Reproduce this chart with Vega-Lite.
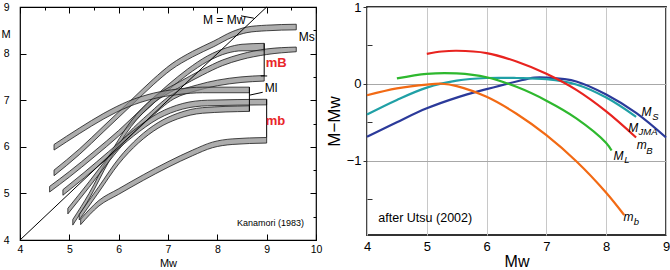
{
  "$schema": "https://vega.github.io/schema/vega-lite/v6.json",
  "padding": 0,
  "background": "white",
  "spacing": 1,
  "config": {
    "font": "Liberation Sans",
    "view": {"stroke": null},
    "axis": {"labelFlush": false, "labelOverlap": false, "labelColor": "black", "titleColor": "black", "titleFontWeight": "normal"}
  },
  "datasets": {
    "bands": [
      {"band": "B1", "mw": 4.69, "hi": 5.5, "lo": 5.38},
      {"band": "B1", "mw": 5.2, "hi": 5.95, "lo": 5.83},
      {"band": "B1", "mw": 5.7, "hi": 6.45, "lo": 6.33},
      {"band": "B1", "mw": 6.25, "hi": 7.0, "lo": 6.88},
      {"band": "B1", "mw": 6.7, "hi": 7.45, "lo": 7.33},
      {"band": "B1", "mw": 7.06, "hi": 7.77, "lo": 7.65},
      {"band": "B1", "mw": 7.5, "hi": 8.05, "lo": 7.93},
      {"band": "B1", "mw": 7.93, "hi": 8.27, "lo": 8.15},
      {"band": "B1", "mw": 8.3, "hi": 8.47, "lo": 8.35},
      {"band": "B1", "mw": 8.6, "hi": 8.57, "lo": 8.45},
      {"band": "B1", "mw": 9.0, "hi": 8.61, "lo": 8.49},
      {"band": "B1", "mw": 9.6, "hi": 8.63, "lo": 8.51},
      {"band": "B2", "mw": 4.6, "hi": 5.15, "lo": 5.03},
      {"band": "B2", "mw": 5.0, "hi": 5.47, "lo": 5.35},
      {"band": "B2", "mw": 5.5, "hi": 5.9, "lo": 5.78},
      {"band": "B2", "mw": 6.0, "hi": 6.35, "lo": 6.23},
      {"band": "B2", "mw": 6.5, "hi": 6.85, "lo": 6.73},
      {"band": "B2", "mw": 7.0, "hi": 7.33, "lo": 7.21},
      {"band": "B2", "mw": 7.4, "hi": 7.67, "lo": 7.55},
      {"band": "B2", "mw": 7.8, "hi": 7.95, "lo": 7.83},
      {"band": "B2", "mw": 8.2, "hi": 8.13, "lo": 8.01},
      {"band": "B2", "mw": 8.5, "hi": 8.2, "lo": 8.06},
      {"band": "B2", "mw": 8.95, "hi": 8.22, "lo": 8.06},
      {"band": "B3", "mw": 5.07, "hi": 4.44, "lo": 4.32},
      {"band": "B3", "mw": 5.4, "hi": 5.0, "lo": 4.88},
      {"band": "B3", "mw": 5.8, "hi": 5.8, "lo": 5.68},
      {"band": "B3", "mw": 6.25, "hi": 6.55, "lo": 6.43},
      {"band": "B3", "mw": 6.7, "hi": 7.05, "lo": 6.93},
      {"band": "B3", "mw": 7.26, "hi": 7.41, "lo": 7.29},
      {"band": "B3", "mw": 7.7, "hi": 7.66, "lo": 7.54},
      {"band": "B3", "mw": 8.1, "hi": 7.86, "lo": 7.74},
      {"band": "B3", "mw": 8.48, "hi": 7.99, "lo": 7.87},
      {"band": "B3", "mw": 9.0, "hi": 8.1, "lo": 7.98},
      {"band": "B3", "mw": 9.6, "hi": 8.14, "lo": 8.04},
      {"band": "B4", "mw": 4.97, "hi": 4.68, "lo": 4.56},
      {"band": "B4", "mw": 5.4, "hi": 5.25, "lo": 5.13},
      {"band": "B4", "mw": 5.8, "hi": 5.8, "lo": 5.68},
      {"band": "B4", "mw": 6.2, "hi": 6.3, "lo": 6.18},
      {"band": "B4", "mw": 6.6, "hi": 6.7, "lo": 6.58},
      {"band": "B4", "mw": 7.12, "hi": 7.15, "lo": 7.03},
      {"band": "B4", "mw": 7.6, "hi": 7.33, "lo": 7.21},
      {"band": "B4", "mw": 8.0, "hi": 7.43, "lo": 7.31},
      {"band": "B4", "mw": 8.48, "hi": 7.5, "lo": 7.38},
      {"band": "B4", "mw": 8.95, "hi": 7.53, "lo": 7.41},
      {"band": "B5", "mw": 4.69, "hi": 6.05, "lo": 5.93},
      {"band": "B5", "mw": 5.2, "hi": 6.4, "lo": 6.28},
      {"band": "B5", "mw": 5.7, "hi": 6.72, "lo": 6.6},
      {"band": "B5", "mw": 6.2, "hi": 6.98, "lo": 6.86},
      {"band": "B5", "mw": 6.7, "hi": 7.15, "lo": 7.03},
      {"band": "B5", "mw": 7.2, "hi": 7.24, "lo": 7.12},
      {"band": "B5", "mw": 7.7, "hi": 7.28, "lo": 7.16},
      {"band": "B5", "mw": 8.65, "hi": 7.28, "lo": 7.16},
      {"band": "B6", "mw": 4.87, "hi": 5.08, "lo": 4.96},
      {"band": "B6", "mw": 5.3, "hi": 5.45, "lo": 5.33},
      {"band": "B6", "mw": 5.8, "hi": 5.9, "lo": 5.78},
      {"band": "B6", "mw": 6.3, "hi": 6.35, "lo": 6.23},
      {"band": "B6", "mw": 6.8, "hi": 6.72, "lo": 6.6},
      {"band": "B6", "mw": 7.3, "hi": 6.93, "lo": 6.81},
      {"band": "B6", "mw": 7.8, "hi": 7.0, "lo": 6.88},
      {"band": "B6", "mw": 9.0, "hi": 7.02, "lo": 6.9},
      {"band": "B7", "mw": 5.2, "hi": 4.55, "lo": 4.43},
      {"band": "B7", "mw": 5.6, "hi": 5.15, "lo": 5.03},
      {"band": "B7", "mw": 6.0, "hi": 5.75, "lo": 5.63},
      {"band": "B7", "mw": 6.4, "hi": 6.2, "lo": 6.08},
      {"band": "B7", "mw": 6.8, "hi": 6.52, "lo": 6.4},
      {"band": "B7", "mw": 7.2, "hi": 6.72, "lo": 6.6},
      {"band": "B7", "mw": 7.7, "hi": 6.84, "lo": 6.72},
      {"band": "B7", "mw": 8.65, "hi": 6.88, "lo": 6.76},
      {"band": "B8", "mw": 5.23, "hi": 4.45, "lo": 4.33},
      {"band": "B8", "mw": 5.6, "hi": 4.85, "lo": 4.73},
      {"band": "B8", "mw": 6.0, "hi": 5.1, "lo": 4.98},
      {"band": "B8", "mw": 6.5, "hi": 5.4, "lo": 5.28},
      {"band": "B8", "mw": 7.0, "hi": 5.68, "lo": 5.56},
      {"band": "B8", "mw": 7.5, "hi": 5.93, "lo": 5.81},
      {"band": "B8", "mw": 7.9, "hi": 6.1, "lo": 5.98},
      {"band": "B8", "mw": 8.3, "hi": 6.17, "lo": 6.05},
      {"band": "B8", "mw": 9.0, "hi": 6.2, "lo": 6.08}
    ],
    "segs": [
      {"x1": 4, "y1": 4, "x2": 9, "y2": 9},
      {"x1": 8.95, "y1": 8.22, "x2": 8.95, "y2": 7.52},
      {"x1": 8.88, "y1": 7.52, "x2": 9.01, "y2": 7.52},
      {"x1": 9.0, "y1": 7.02, "x2": 9.0, "y2": 6.2},
      {"x1": 8.65, "y1": 7.28, "x2": 8.65, "y2": 6.76},
      {"x1": 8.48, "y1": 8.81, "x2": 8.74, "y2": 8.76},
      {"x1": 8.92, "y1": 7.17, "x2": 8.66, "y2": 7.11}
    ],
    "ktext": [
      {"t": "M = Mw", "mw": 7.71, "m": 8.72},
      {"t": "Ms", "mw": 9.65, "m": 8.35},
      {"t": "Ml", "mw": 8.96, "m": 7.26}
    ],
    "kred": [
      {"t": "mB", "mw": 8.98, "m": 7.8},
      {"t": "mb", "mw": 8.98, "m": 6.55}
    ],
    "ksrc": [
      {"t": "Kanamori (1983)", "mw": 8.4, "m": 4.37}
    ],
    "utsu": [
      {"curve": "Ms", "mw": 4.0, "d": -0.69},
      {"curve": "Ms", "mw": 4.5, "d": -0.5},
      {"curve": "Ms", "mw": 5.0, "d": -0.32},
      {"curve": "Ms", "mw": 5.5, "d": -0.18},
      {"curve": "Ms", "mw": 6.0, "d": -0.07},
      {"curve": "Ms", "mw": 6.5, "d": 0.03},
      {"curve": "Ms", "mw": 6.8, "d": 0.08},
      {"curve": "Ms", "mw": 7.0, "d": 0.08},
      {"curve": "Ms", "mw": 7.5, "d": 0.03},
      {"curve": "Ms", "mw": 8.0, "d": -0.14},
      {"curve": "Ms", "mw": 8.5, "d": -0.38},
      {"curve": "Ms", "mw": 9.0, "d": -0.7},
      {"curve": "MJMA", "mw": 4.0, "d": -0.4},
      {"curve": "MJMA", "mw": 4.5, "d": -0.21},
      {"curve": "MJMA", "mw": 5.0, "d": -0.05},
      {"curve": "MJMA", "mw": 5.5, "d": 0.04},
      {"curve": "MJMA", "mw": 6.0, "d": 0.075},
      {"curve": "MJMA", "mw": 6.5, "d": 0.075},
      {"curve": "MJMA", "mw": 7.0, "d": 0.06},
      {"curve": "MJMA", "mw": 7.5, "d": -0.01},
      {"curve": "MJMA", "mw": 8.0, "d": -0.18},
      {"curve": "MJMA", "mw": 8.5, "d": -0.43},
      {"curve": "mB", "mw": 5.0, "d": 0.39},
      {"curve": "mB", "mw": 5.25, "d": 0.42},
      {"curve": "mB", "mw": 5.5, "d": 0.43},
      {"curve": "mB", "mw": 6.0, "d": 0.4},
      {"curve": "mB", "mw": 6.5, "d": 0.29},
      {"curve": "mB", "mw": 7.0, "d": 0.13},
      {"curve": "mB", "mw": 7.5, "d": -0.08},
      {"curve": "mB", "mw": 8.0, "d": -0.36},
      {"curve": "mB", "mw": 8.5, "d": -0.7},
      {"curve": "ML", "mw": 4.5, "d": 0.07},
      {"curve": "ML", "mw": 5.0, "d": 0.13},
      {"curve": "ML", "mw": 5.5, "d": 0.135},
      {"curve": "ML", "mw": 6.0, "d": 0.085},
      {"curve": "ML", "mw": 6.5, "d": -0.04},
      {"curve": "ML", "mw": 7.0, "d": -0.22},
      {"curve": "ML", "mw": 7.5, "d": -0.45},
      {"curve": "ML", "mw": 8.0, "d": -0.77},
      {"curve": "ML", "mw": 8.09, "d": -0.87},
      {"curve": "mb", "mw": 4.0, "d": -0.15},
      {"curve": "mb", "mw": 4.5, "d": -0.06},
      {"curve": "mb", "mw": 5.0, "d": -0.01},
      {"curve": "mb", "mw": 5.25, "d": 0.0},
      {"curve": "mb", "mw": 5.5, "d": -0.03},
      {"curve": "mb", "mw": 6.0, "d": -0.17},
      {"curve": "mb", "mw": 6.5, "d": -0.39},
      {"curve": "mb", "mw": 7.0, "d": -0.67},
      {"curve": "mb", "mw": 7.5, "d": -1.01},
      {"curve": "mb", "mw": 8.0, "d": -1.42},
      {"curve": "mb", "mw": 8.3, "d": -1.71}
    ],
    "umain": [
      {"t": "M", "mw": 8.59, "d": -0.37},
      {"t": "M", "mw": 8.37, "d": -0.57},
      {"t": "m", "mw": 8.51, "d": -0.8},
      {"t": "M", "mw": 8.12, "d": -0.94},
      {"t": "m", "mw": 8.29, "d": -1.74}
    ],
    "usub": [
      {"t": "S", "mw": 8.77, "d": -0.43},
      {"t": "JMA", "mw": 8.54, "d": -0.63},
      {"t": "B", "mw": 8.67, "d": -0.87},
      {"t": "L", "mw": 8.3, "d": -0.99},
      {"t": "b", "mw": 8.46, "d": -1.8}
    ],
    "usrc": [
      {"t": "after Utsu (2002)", "mw": 4.19, "d": -1.75}
    ]
  },
  "hconcat": [
    {
      "width": 296,
      "height": 233,
      "view": {"stroke": "black", "strokeWidth": 1.2},
      "layer": [
        {
          "data": {"name": "bands"},
          "mark": {"type": "area", "interpolate": "monotone", "fill": "#8a8a8a", "fillOpacity": 0.7, "stroke": "#1a1a1a", "strokeWidth": 0.8},
          "encoding": {
            "x": {"field": "mw", "type": "quantitative", "scale": {"domain": [4, 10], "nice": false, "zero": false},
              "axis": {"orient": "bottom", "values": [4, 4.5, 5, 5.5, 6, 6.5, 7, 7.5, 8, 8.5, 9, 9.5, 10], "format": "d",
                "labelExpr": "datum.value % 1 === 0 ? datum.label : ''", "domain": false, "grid": false,
                "tickColor": "black", "tickSize": {"condition": {"test": "datum.value % 1 === 0", "value": -6}, "value": -3},
                "labelPadding": 10, "labelFontSize": 10.5, "title": "Mw", "titleFontSize": 11, "titlePadding": 3}},
            "y": {"field": "hi", "type": "quantitative", "scale": {"domain": [4, 9], "nice": false, "zero": false},
              "axis": {"orient": "left", "values": [4, 4.5, 5, 5.5, 6, 6.5, 7, 7.5, 8, 8.5, 9], "format": "d",
                "labelExpr": "datum.value % 1 === 0 ? datum.label : ''", "domain": false, "grid": false,
                "tickColor": "black", "tickSize": {"condition": {"test": "datum.value % 1 === 0", "value": -6}, "value": -3},
                "labelPadding": 17, "labelFontSize": 10.5, "title": "M", "titleFontSize": 11, "titleAngle": 0,
                "titleX": -19, "titleY": 27, "titleAlign": "left", "titleBaseline": "middle"}},
            "y2": {"field": "lo"},
            "detail": {"field": "band"}
          }
        },
        {
          "data": {"name": "segs"},
          "mark": {"type": "rule", "color": "black", "strokeWidth": 1},
          "encoding": {
            "x": {"field": "x1", "type": "quantitative",
              "axis": {"orient": "top", "values": [4, 4.5, 5, 5.5, 6, 6.5, 7, 7.5, 8, 8.5, 9, 9.5, 10], "labels": false, "domain": false, "grid": false,
                "tickColor": "black", "tickSize": {"condition": {"test": "datum.value % 1 === 0", "value": -6}, "value": -3}, "title": null}},
            "y": {"field": "y1", "type": "quantitative",
              "axis": {"orient": "right", "values": [4, 4.5, 5, 5.5, 6, 6.5, 7, 7.5, 8, 8.5, 9], "labels": false, "domain": false, "grid": false,
                "tickColor": "black", "tickSize": {"condition": {"test": "datum.value % 1 === 0", "value": -6}, "value": -3}, "title": null}},
            "x2": {"field": "x2"},
            "y2": {"field": "y2"}
          }
        },
        {
          "data": {"name": "ktext"},
          "mark": {"type": "text", "align": "left", "baseline": "middle", "fontSize": 12, "color": "black"},
          "encoding": {
            "x": {"field": "mw", "type": "quantitative", "axis": null},
            "y": {"field": "m", "type": "quantitative", "axis": null},
            "text": {"field": "t"}
          }
        },
        {
          "data": {"name": "kred"},
          "mark": {"type": "text", "align": "left", "baseline": "middle", "fontSize": 13, "fontWeight": "bold", "color": "#e8262a"},
          "encoding": {
            "x": {"field": "mw", "type": "quantitative", "axis": null},
            "y": {"field": "m", "type": "quantitative", "axis": null},
            "text": {"field": "t"}
          }
        },
        {
          "data": {"name": "ksrc"},
          "mark": {"type": "text", "align": "left", "baseline": "middle", "fontSize": 9, "color": "black"},
          "encoding": {
            "x": {"field": "mw", "type": "quantitative", "axis": null},
            "y": {"field": "m", "type": "quantitative", "axis": null},
            "text": {"field": "t"}
          }
        }
      ],
      "resolve": {"axis": {"x": "independent", "y": "independent"}}
    },
    {
      "width": 299,
      "height": 228,
      "view": {"stroke": "#333333", "strokeWidth": 1.8},
      "layer": [
        {
          "data": {"name": "utsu"},
          "mark": {"type": "line", "interpolate": "catmull-rom", "strokeWidth": 2.2},
          "encoding": {
            "x": {"field": "mw", "type": "quantitative", "scale": {"domain": [4, 9], "nice": false, "zero": false},
              "axis": {"orient": "bottom", "values": [4, 5, 6, 7, 8, 9], "grid": true, "gridColor": "#c8c8c8", "gridWidth": 1,
                "domain": false, "ticks": false, "labelPadding": 5, "labelFontSize": 13,
                "title": "Mw", "titleFontSize": 16, "titlePadding": 0}},
            "y": {"field": "d", "type": "quantitative", "scale": {"domain": [-1.97, 1], "nice": false, "zero": false},
              "axis": {"orient": "left", "values": [1, 0, -1], "grid": true, "gridColor": "#a8a8a8", "gridWidth": 1,
                "domain": false, "ticks": true, "tickSize": 4, "tickColor": "#333333", "labelPadding": 2,
                "labelFontSize": 13, "title": "M−Mw", "titleFontSize": 17, "titlePadding": 3}},
            "color": {"field": "curve", "type": "nominal", "legend": null,
              "scale": {"domain": ["Ms", "MJMA", "mB", "ML", "mb"], "range": ["#2b3a9a", "#20a0a6", "#e8231f", "#2eb82e", "#f26a14"]}}
          }
        },
        {
          "data": {"name": "umain"},
          "mark": {"type": "text", "align": "left", "baseline": "middle", "fontSize": 12, "fontStyle": "italic", "color": "black"},
          "encoding": {
            "x": {"field": "mw", "type": "quantitative", "axis": null},
            "y": {"field": "d", "type": "quantitative",
              "axis": {"orient": "left", "values": [0.5, -0.5, -1.5], "labels": false, "domain": false, "grid": false,
                "tickSize": -5, "tickColor": "#333333", "title": null}},
            "text": {"field": "t"}
          }
        },
        {
          "data": {"name": "usub"},
          "mark": {"type": "text", "align": "left", "baseline": "middle", "fontSize": 9.5, "fontStyle": "italic", "color": "black"},
          "encoding": {
            "x": {"field": "mw", "type": "quantitative", "axis": null},
            "y": {"field": "d", "type": "quantitative", "axis": null},
            "text": {"field": "t"}
          }
        },
        {
          "data": {"name": "usrc"},
          "mark": {"type": "text", "align": "left", "baseline": "middle", "fontSize": 12.5, "color": "black"},
          "encoding": {
            "x": {"field": "mw", "type": "quantitative", "axis": null},
            "y": {"field": "d", "type": "quantitative", "axis": null},
            "text": {"field": "t"}
          }
        }
      ],
      "resolve": {"axis": {"x": "independent", "y": "independent"}}
    }
  ]
}
